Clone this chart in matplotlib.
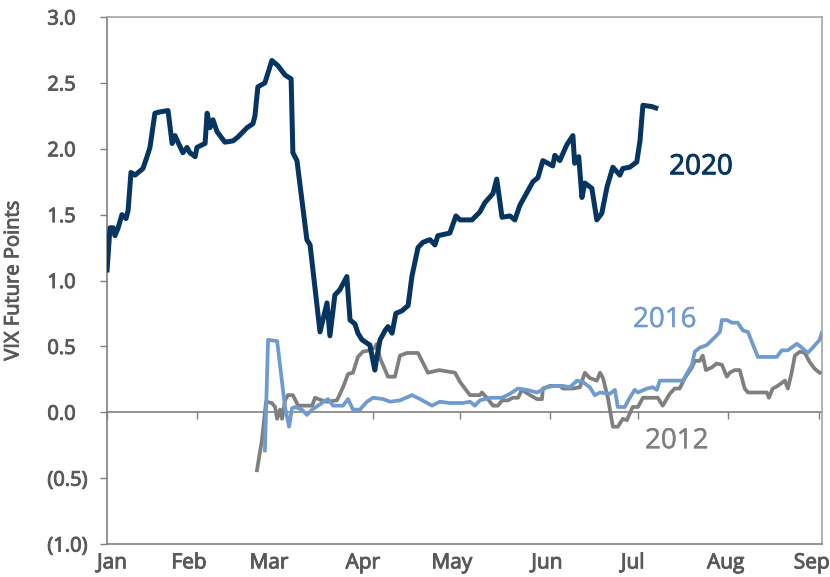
import numpy as np
import matplotlib
matplotlib.use("Agg")
import matplotlib.pyplot as plt
import matplotlib.patheffects as pe

# day of year (2020 calendar, 0 = Jan 1) and VIX future points
days_2020 = [0.0, 1.0, 2.1, 2.7, 3.8, 5.1, 6.5, 7.2, 8.2, 9.6, 12.3, 13.7, 14.7, 16.4, 18.2,
             20.9, 22.3, 23.3, 24.3, 26.0, 27.4, 28.4, 30.2, 30.8, 32.6, 33.6, 34.3, 35.3,
             36.3, 37.7, 40.4, 43.2, 44.9, 48.0, 50.0, 50.7, 51.7, 54.1, 56.5, 58.6, 61.0,
             63.1, 63.7, 65.1, 68.5, 69.6, 73.0, 75.4, 76.4, 78.1, 79.8, 82.2, 83.3, 85.0,
             86.0, 87.4, 90.1, 91.8, 92.5, 93.6, 95.3, 96.3, 97.7, 99.0, 101.1, 103.2, 104.5,
             106.6, 108.3, 110.7, 112.4, 113.4, 117.5, 119.6, 121.0, 125.1, 127.8, 129.5,
             132.3, 133.6, 135.4, 138.1, 139.8, 141.5, 146.0, 147.7, 149.4, 151.1, 152.8,
             153.5, 155.2, 157.6, 159.7, 160.3, 161.7, 162.8, 163.8, 166.2, 167.9, 169.6,
             171.4, 173.4, 175.8, 176.8, 179.2, 181.6, 182.7, 183.7, 186.8, 188.1]
vals_2020 = [1.08, 1.40, 1.40, 1.34, 1.40, 1.50, 1.47, 1.53, 1.82, 1.80, 1.85, 1.94, 2.01, 2.27,
             2.28, 2.29, 2.04, 2.10, 2.05, 1.97, 2.01, 1.97, 1.94, 2.01, 2.03, 2.04, 2.27, 2.16,
             2.22, 2.13, 2.05, 2.06, 2.09, 2.16, 2.19, 2.25, 2.47, 2.50, 2.67, 2.63, 2.56, 2.53,
             1.97, 1.91, 1.31, 1.27, 0.61, 0.83, 0.58, 0.89, 0.93, 1.03, 0.70, 0.67, 0.60, 0.55,
             0.51, 0.32, 0.42, 0.55, 0.62, 0.65, 0.60, 0.75, 0.77, 0.81, 1.03, 1.25, 1.29, 1.31,
             1.27, 1.34, 1.36, 1.49, 1.46, 1.46, 1.52, 1.59, 1.66, 1.77, 1.48, 1.49, 1.46, 1.57,
             1.75, 1.78, 1.91, 1.89, 1.87, 1.95, 1.91, 2.03, 2.10, 1.89, 1.94, 1.63, 1.74, 1.70,
             1.46, 1.51, 1.71, 1.86, 1.80, 1.85, 1.86, 1.90, 2.06, 2.33, 2.32, 2.31]

days_2016 = [54.1, 55.2, 58.3, 61.0, 62.4, 63.4, 64.4, 66.8, 68.5, 70.3, 72.3, 75.7, 77.5, 80.9,
             82.6, 84.3, 86.7, 89.1, 91.2, 94.6, 97.0, 100.4, 104.5, 107.3, 111.4, 114.1, 117.5,
             122.0, 124.4, 126.1, 127.8, 131.3, 135.4, 138.1, 140.9, 143.9, 147.4, 150.8, 153.5,
             156.3, 158.7, 161.1, 163.1, 165.5, 167.2, 169.0, 172.4, 174.1, 175.1, 177.5, 179.2,
             180.9, 182.0, 185.1, 187.1, 188.5, 189.5, 197.4, 200.5, 201.5, 203.2, 205.6, 208.4,
             210.1, 210.8, 212.5, 214.2, 216.2, 218.0, 219.7, 223.1, 229.6, 231.3, 233.4, 236.5,
             238.2, 240.2, 241.9, 244.3, 245.0]
vals_2016 = [-0.29, 0.55, 0.54, 0.04, -0.11, 0.03, 0.04, 0.02, -0.02, 0.02, 0.05, 0.10, 0.05, 0.05,
             0.10, 0.02, 0.02, 0.08, 0.11, 0.10, 0.08, 0.09, 0.13, 0.10, 0.05, 0.08, 0.07, 0.07,
             0.08, 0.05, 0.09, 0.11, 0.11, 0.14, 0.18, 0.17, 0.15, 0.19, 0.20, 0.20, 0.19, 0.24,
             0.23, 0.19, 0.13, 0.15, 0.14, 0.17, 0.04, 0.04, 0.11, 0.17, 0.15, 0.18, 0.19, 0.17,
             0.24, 0.24, 0.36, 0.46, 0.49, 0.51, 0.57, 0.61, 0.70, 0.70, 0.68, 0.68, 0.62, 0.61,
             0.42, 0.42, 0.47, 0.47, 0.52, 0.49, 0.45, 0.49, 0.55, 0.60]

days_2012 = [51.4, 53.1, 54.5, 56.5, 57.6, 58.3, 59.3, 60.0, 61.0, 62.0, 63.7, 65.5, 70.3, 71.3,
             73.7, 75.4, 78.8, 80.9, 82.6, 84.3, 86.0, 87.7, 90.1, 91.8, 92.5, 93.6, 96.3, 98.7,
             100.4, 102.8, 106.6, 110.0, 113.8, 119.3, 121.0, 124.4, 127.8, 128.5, 130.2, 132.3,
             134.0, 135.4, 137.4, 139.1, 140.9, 142.2, 145.0, 147.4, 149.1, 149.4, 151.8, 155.2,
             156.3, 159.7, 162.1, 163.8, 165.5, 167.9, 169.0, 170.0, 171.7, 173.4, 175.1, 176.8,
             178.2, 180.2, 182.0, 183.7, 188.8, 190.5, 192.9, 194.6, 196.3, 198.1, 200.5, 201.5,
             203.2, 204.2, 205.3, 207.3, 209.0, 210.8, 212.5, 213.5, 215.2, 216.9, 218.6, 219.7,
             226.2, 226.9, 228.2, 229.9, 232.4, 233.4, 234.7, 235.8, 237.5, 239.2, 240.9, 242.6,
             244.3]
vals_2012 = [-0.44, -0.21, 0.08, 0.07, 0.04, -0.05, 0.02, -0.05, 0.09, 0.13, 0.13, 0.05, 0.05, 0.11,
             0.09, 0.08, 0.09, 0.19, 0.29, 0.30, 0.42, 0.46, 0.47, 0.49, 0.52, 0.41, 0.27, 0.27,
             0.43, 0.45, 0.45, 0.30, 0.32, 0.30, 0.23, 0.13, 0.13, 0.15, 0.11, 0.05, 0.05, 0.09,
             0.09, 0.11, 0.11, 0.17, 0.13, 0.10, 0.10, 0.18, 0.20, 0.20, 0.18, 0.18, 0.19, 0.30,
             0.26, 0.24, 0.30, 0.26, 0.11, -0.11, -0.11, -0.05, -0.06, 0.04, 0.04, 0.11, 0.11,
             0.05, 0.14, 0.18, 0.18, 0.26, 0.34, 0.39, 0.39, 0.43, 0.32, 0.34, 0.37, 0.36, 0.27,
             0.30, 0.32, 0.32, 0.18, 0.15, 0.15, 0.11, 0.18, 0.20, 0.24, 0.18, 0.30, 0.43, 0.46,
             0.45, 0.38, 0.33, 0.30]

months = ["Jan", "Feb", "Mar", "Apr", "May", "Jun", "Jul", "Aug", "Sep"]
month_start = [0, 31, 60, 91, 121, 152, 182, 213, 244]
month_label_pos = [1.7, 28.1, 55.5, 87.7, 118.2, 150.8, 180.2, 212.1, 241.6]
y_ticks = [-1.0, -0.5, 0.0, 0.5, 1.0, 1.5, 2.0, 2.5, 3.0]
y_labels = ["(1.0)", "(0.5)", "0.0", "0.5", "1.0", "1.5", "2.0", "2.5", "3.0"]

c2020 = "#063562"
c2016 = "#6f9bcf"
c2012 = "#7f7f7f"
txt = "#595959"

plt.rcParams['font.family'] = ['Open Sans', 'DejaVu Sans']

# fonts here come in regular weight only, so thicken the axis text a little with a stroke
semi = [pe.withStroke(linewidth=0.7, foreground=txt)]

fig = plt.figure(figsize=(8.3, 5.77), dpi=100)
ax = fig.add_axes([0.129, 0.0572, 0.861, 0.9133])

ax.plot(days_2012, vals_2012, color=c2012, lw=2.7, zorder=3)
ax.plot(days_2016, vals_2016, color=c2016, lw=2.7, zorder=4)
ax.plot(days_2020, vals_2020, color=c2020, lw=3.6, zorder=5)

ax.set_xlim(0, 245)
ax.set_ylim(-1.0, 3.0)

# y axis: labels start at a common left edge, like the Excel original
ax.set_yticks(y_ticks)
ax.set_yticklabels(y_labels)
ax.tick_params(axis='y', direction='out', length=5, width=1, color="#808080",
               labelsize=14.5, labelcolor=txt, pad=38)
for t in ax.get_yticklabels():
    t.set_horizontalalignment('left')
    t.set_path_effects(semi)
ax.set_ylabel("VIX Future Points", fontsize=14.5, color=txt, path_effects=semi)
ax.yaxis.set_label_coords(-0.117, 0.5)

# month labels along the bottom, no tick marks there
ax.set_xticks(month_label_pos)
ax.set_xticklabels(months)
ax.tick_params(axis='x', length=0, labelsize=15, labelcolor=txt, pad=6)
for t in ax.get_xticklabels():
    t.set_path_effects(semi)

# zero line with month tick marks hanging below it
zero_ax = ax.secondary_xaxis(0.25)
zero_ax.set_xticks(month_start)
zero_ax.set_xticklabels([])
zero_ax.tick_params(direction='out', length=5, width=1, color="#808080")
zero_ax.spines['bottom'].set_color("#808080")
zero_ax.spines['bottom'].set_linewidth(1.2)

for s in ['left', 'bottom']:
    ax.spines[s].set_color("#808080")
    ax.spines[s].set_linewidth(1.2)
for s in ['top', 'right']:
    ax.spines[s].set_color("#a6a6a6")
    ax.spines[s].set_linewidth(1.2)

# series labels
ax.text(203.6, 1.86, "2020", color=c2020, fontsize=20, ha='center', va='center',
        path_effects=[pe.withStroke(linewidth=0.7, foreground=c2020)])
ax.text(191.2, 0.70, "2016", color=c2016, fontsize=20, ha='center', va='center',
        path_effects=[pe.withStroke(linewidth=0.3, foreground=c2016)])
ax.text(195.3, -0.22, "2012", color=c2012, fontsize=20, ha='center', va='center',
        path_effects=[pe.withStroke(linewidth=0.3, foreground=c2012)])

fig.savefig("out.png", dpi=100)
